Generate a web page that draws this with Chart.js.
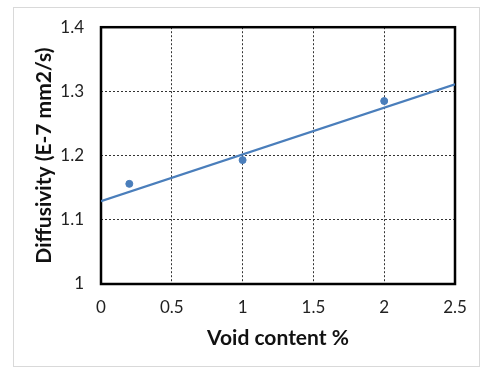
<!DOCTYPE html>
<html lang="en">
<head>
<meta charset="utf-8">
<script src="https://cdn.jsdelivr.net/npm/chart.js@4"></script>
<title>Diffusivity vs void content</title>
<style>
body { margin: 0; background: #fff; }
.wrap { position: relative; width: 493px; height: 380px; }
.frame { position: absolute; left: 13px; top: 7px; width: 465px; height: 358px; border: 1px solid #d9d9d9; }
canvas { position: absolute; left: 0; top: 0; }
</style>
</head>
<body>
<div class="wrap">
  <div class="frame"></div>
  <canvas id="myChart" width="493" height="380"></canvas>
</div>
<script>
// measured points
const voidContent = [0.2, 1, 2];
const diffusivity = [1.156, 1.193, 1.285];
// linear trend line ends
const trendX = [0, 2.5];
const trendY = [1.129, 1.311];

const blue = '#4a7ebb';
const gridDash = '#333';

// solid black frame around plot area
const plotFrame = {
  id: 'plotFrame',
  beforeDatasetsDraw(chart) {
    const a = chart.chartArea;
    const c = chart.ctx;
    c.save();
    c.strokeStyle = '#000';
    c.lineWidth = 2.5;
    c.strokeRect(a.left, a.top, a.right - a.left, a.bottom - a.top);
    c.restore();
  }
};

function innerGrid(ctx) {
  const n = ctx.scale.ticks.length;
  return (ctx.index === 0 || ctx.index === n - 1) ? 'rgba(0,0,0,0)' : gridDash;
}
const plain = v => String(+v.toFixed(2));

Chart.defaults.font.family = 'Lato, "Liberation Sans", sans-serif';
Chart.defaults.color = '#222';

new Chart(document.getElementById('myChart'), {
  type: 'scatter',
  data: {
    datasets: [{
      data: voidContent.map((x, i) => ({ x: x, y: diffusivity[i] })),
      backgroundColor: blue,
      borderColor: blue,
      pointRadius: 3.5,
      pointHoverRadius: 3.5
    }, {
      type: 'line',
      data: trendX.map((x, i) => ({ x: x, y: trendY[i] })),
      borderColor: blue,
      borderWidth: 2.2,
      pointRadius: 0,
      fill: false
    }]
  },
  options: {
    responsive: false,
    animation: false,
    layout: { padding: { left: 0, top: 24, right: 38, bottom: 0 } },
    plugins: { legend: { display: false }, tooltip: { enabled: false } },
    scales: {
      x: {
        type: 'linear',
        min: 0, max: 2.5,
        ticks: { stepSize: 0.5, padding: 13, font: { size: 17 }, callback: plain },
        grid: { color: innerGrid, lineWidth: 1, drawTicks: false },
        border: { display: false, dash: [2, 2] },
        title: { display: true, text: 'Void content %', font: { size: 21, weight: 'bold' }, color: '#111', padding: { top: 0, bottom: 29 } },
        afterFit(s) { s.height = 96; }
      },
      y: {
        min: 1, max: 1.4,
        ticks: { stepSize: 0.1, padding: 17, font: { size: 17 }, callback: plain },
        grid: { color: innerGrid, lineWidth: 1, drawTicks: false },
        border: { display: false, dash: [2, 2] },
        title: { display: true, text: 'Diffusivity (E-7 mm2/s)', font: { size: 21, weight: 'bold' }, color: '#111', padding: { top: 32, bottom: 0 } },
        afterFit(s) { s.width = 101; }
      }
    }
  },
  plugins: [plotFrame]
});
</script>
</body>
</html>
